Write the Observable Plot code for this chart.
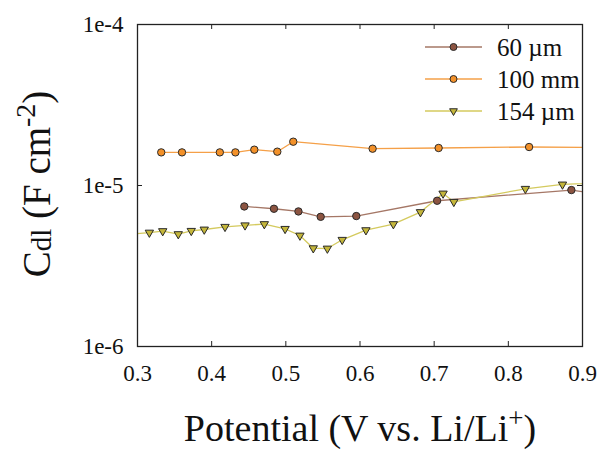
<!DOCTYPE html>
<html>
<head>
<meta charset="utf-8">
<script src="https://cdn.jsdelivr.net/npm/d3@7"></script>
<script src="https://cdn.jsdelivr.net/npm/@observablehq/plot@0.6"></script>
<style>
  html, body { margin: 0; padding: 0; background: #fff; }
  #chart { width: 602px; height: 452px; }
</style>
</head>
<body>
<div id="chart"></div>
<script>
// ---- data (x = potential in V, y = Cdl in F cm^-2) ----
const seriesNames = ["60 µm", "100 mm", "154 µm"];

const x60  = [0.444, 0.484, 0.517, 0.547, 0.595, 0.704, 0.885, 0.95];
const y60  = [7.41e-6, 7.17e-6, 6.90e-6, 6.39e-6, 6.46e-6, 8.04e-6, 9.37e-6, 8.42e-6];

const x100 = [0.332, 0.360, 0.411, 0.432, 0.4575, 0.4885, 0.510, 0.617, 0.706, 0.828, 0.95];
const y100 = [1.606e-5, 1.606e-5, 1.606e-5, 1.606e-5, 1.669e-5, 1.622e-5, 1.871e-5, 1.693e-5, 1.710e-5, 1.734e-5, 1.717e-5];

const x154 = [0.29, 0.316, 0.334, 0.355, 0.3725, 0.390, 0.418, 0.445, 0.471, 0.499, 0.519, 0.537, 0.556, 0.576, 0.608, 0.645, 0.6815, 0.712, 0.7265, 0.823, 0.873, 0.95];
const y154 = [4.99e-6, 5.10e-6, 5.21e-6, 4.99e-6, 5.23e-6, 5.33e-6, 5.54e-6, 5.66e-6, 5.76e-6, 5.38e-6, 4.89e-6, 4.08e-6, 4.06e-6, 4.60e-6, 5.28e-6, 5.76e-6, 6.84e-6, 8.92e-6, 7.92e-6, 9.54e-6, 1.015e-5, 1.055e-5];

const xTicks = [0.3, 0.4, 0.5, 0.6, 0.7, 0.8, 0.9];
const xInnerTicks = [0.4, 0.5, 0.6, 0.7, 0.8];
const yTicks = [1e-6, 1e-5, 1e-4];
const yInnerTicks = [1e-5];

// ---- styles ----
const lineColors = {"60 µm": "#a57766", "100 mm": "#f5a048", "154 µm": "#d4ca5e"};
const fillColors = {"60 µm": "#8c5441", "100 mm": "#f39129", "154 µm": "#c4b63a"};
const serif = "Liberation Serif";

const toRows = (xs, ys, s) => xs.map((x, i) => ({x, y: ys[i], s}));
const d60 = toRows(x60, y60, seriesNames[0]);
const d100 = toRows(x100, y100, seriesNames[1]);
const d154 = toRows(x154, y154, seriesNames[2]);

const lineOpts = s => ({x: "x", y: "y", stroke: lineColors[s], strokeWidth: 1.3, clip: true});
const circleOpts = s => ({x: "x", y: "y", r: 3.7, fill: fillColors[s], stroke: "#2a2a2a", strokeWidth: 1, clip: true});

const fmtY = d => "1e" + Math.round(Math.log10(d));

const plot = Plot.plot({
  width: 602,
  height: 452,
  marginLeft: 137,
  marginRight: 20,
  marginTop: 24,
  marginBottom: 106,
  style: {fontFamily: serif, background: "#fff"},
  x: {domain: [0.3, 0.9]},
  y: {type: "log", domain: [1e-6, 1e-4]},
  marks: [
    Plot.line(d60, lineOpts(seriesNames[0])),
    Plot.line(d100, lineOpts(seriesNames[1])),
    Plot.line(d154, lineOpts(seriesNames[2])),
    Plot.dot(d154, {x: "x", y: "y", symbol: "triangle", rotate: 180, r: 3.1, fill: fillColors[seriesNames[2]], stroke: "#2a2a2a", strokeWidth: 1, clip: true}),
    Plot.dot(d100, circleOpts(seriesNames[1])),
    Plot.dot(d60, circleOpts(seriesNames[0])),
    // inward ticks
    Plot.ruleX(xInnerTicks, {stroke: "#222", strokeWidth: 1, insetTop: 317}),
    Plot.ruleX(xInnerTicks, {stroke: "#222", strokeWidth: 1, insetBottom: 317}),
    Plot.ruleY(yInnerTicks, {stroke: "#222", strokeWidth: 1, insetRight: 440}),
    Plot.ruleY(yInnerTicks, {stroke: "#222", strokeWidth: 1, insetLeft: 440}),
    Plot.frame({stroke: "#222", strokeWidth: 1.3}),
    Plot.axisX(xTicks, {tickSize: 0, tickPadding: 18, fontSize: 23, fontFamily: serif, fontVariant: "normal", tickFormat: d => d.toFixed(1), label: null, fill: "#111"}),
    Plot.axisY(yTicks, {tickSize: 0, tickPadding: 14, fontSize: 23, fontFamily: serif, fontVariant: "normal", tickFormat: fmtY, label: null, fill: "#111"})
  ]
});

document.getElementById("chart").appendChild(plot);

// ---- axis titles and legend added into the same SVG ----
const svg = d3.select(plot);

// y-axis title: C_dl (F cm^-2)
const yt = svg.append("text")
  .attr("transform", "translate(50,184) rotate(-90)")
  .attr("text-anchor", "middle")
  .style("font-family", serif)
  .style("font-size", "39px")
  .attr("fill", "#111");
yt.append("tspan").text("C");
yt.append("tspan").style("font-size", "29px").attr("dy", 1).text("dl");
yt.append("tspan").attr("dy", -1).text(" (F cm");
yt.append("tspan").style("font-size", "28px").attr("dy", -15).text("-2");
yt.append("tspan").attr("dy", 15).text(")");

// x-axis title: Potential (V vs. Li/Li+)
const xt = svg.append("text")
  .attr("x", 360)
  .attr("y", 441)
  .attr("text-anchor", "middle")
  .style("font-family", serif)
  .style("font-size", "38px")
  .attr("fill", "#111");
xt.append("tspan").text("Potential (V vs. Li/Li");
xt.append("tspan").style("font-size", "27px").attr("dy", -14).text("+");
xt.append("tspan").attr("dy", 14).text(")");

// legend
const legendRows = [47, 79, 111];
seriesNames.forEach((s, i) => {
  const g = svg.append("g").attr("transform", `translate(0,${legendRows[i]})`);
  g.append("line").attr("x1", 425).attr("x2", 482).attr("y1", 0).attr("y2", 0)
    .attr("stroke", lineColors[s]).attr("stroke-width", 1.3);
  if (i < 2) {
    g.append("circle").attr("cx", 453.5).attr("cy", 0).attr("r", 3.5)
      .attr("fill", fillColors[s]).attr("stroke", "#2a2a2a").attr("stroke-width", 1);
  } else {
    g.append("path").attr("d", d3.symbol(d3.symbolTriangle, 26)())
      .attr("transform", "translate(453.5,0) rotate(180)")
      .attr("fill", fillColors[s]).attr("stroke", "#2a2a2a").attr("stroke-width", 1);
  }
  g.append("text").attr("x", 497).attr("y", 9)
    .attr("text-anchor", "start")
    .style("font-family", serif).style("font-size", "25px").attr("fill", "#111")
    .text(s);
});
</script>
</body>
</html>
